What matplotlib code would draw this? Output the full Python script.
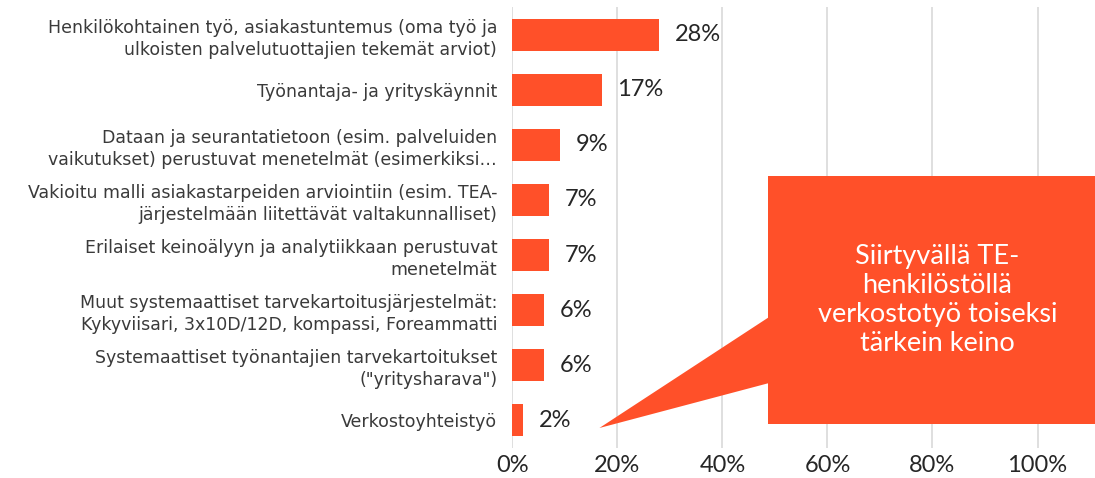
import matplotlib.pyplot as plt
from matplotlib.patches import Polygon, Rectangle
from matplotlib.ticker import FuncFormatter

plt.rcParams['font.family'] = ['Lato', 'DejaVu Sans']

labels = [
    "Henkilökohtainen työ, asiakastuntemus (oma työ ja\nulkoisten palvelutuottajien tekemät arviot)",
    "Työnantaja- ja yrityskäynnit",
    "Dataan ja seurantatietoon (esim. palveluiden\nvaikutukset) perustuvat menetelmät (esimerkiksi…",
    "Vakioitu malli asiakastarpeiden arviointiin (esim. TEA-\njärjestelmään liitettävät valtakunnalliset)",
    "Erilaiset keinoälyyn ja analytiikkaan perustuvat\nmenetelmät",
    "Muut systemaattiset tarvekartoitusjärjestelmät:\nKykyviisari, 3x10D/12D, kompassi, Foreammatti",
    "Systemaattiset työnantajien tarvekartoitukset\n(\"yritysharava\")",
    "Verkostoyhteistyö",
]
values = [28, 17, 9, 7, 7, 6, 6, 2]
xticks = [0, 20, 40, 60, 80, 100]
note = "Siirtyvällä TE-\nhenkilöstöllä\nverkostotyö toiseksi\ntärkein keino"

ORANGE = "#FF5029"

fig = plt.figure(figsize=(10.95, 4.78), dpi=100)
ax = fig.add_axes([0.468, 0.0628, 0.532, 0.9226])

y = list(range(len(values)))
ax.barh(y, values, height=0.58, color=ORANGE, zorder=3)

for yi, v in zip(y, values):
    ax.text(v + 3.0, yi, f"{v}%", va="center", ha="left", fontsize=17,
            color="#262626", zorder=4)

ax.set_yticks(y)
ax.set_yticklabels(labels, fontsize=12.5, color="#3A3A3A", linespacing=1.3,
                   family=["DejaVu Sans"])
ax.set_ylim(len(values) - 0.5, -0.5)
ax.set_xlim(0, 110.95)
ax.set_xticks(xticks)
ax.xaxis.set_major_formatter(FuncFormatter(lambda v, p: f"{v:.0f}%"))
ax.tick_params(axis="x", labelsize=17, labelcolor="#262626", length=0, pad=5)
ax.tick_params(axis="y", length=0, pad=11)
ax.grid(axis="x", color="#D9D9D9", lw=1.2, zorder=0)
ax.set_axisbelow(True)
for s in ax.spines.values():
    s.set_visible(False)

# callout box with a pointer towards the last bar
box = Rectangle((0.7014, 0.113), 0.31, 0.5188, transform=fig.transFigure,
                facecolor=ORANGE, edgecolor="none", zorder=5)
pointer = Polygon([(0.7024, 0.3368), (0.5474, 0.1046), (0.7024, 0.1987)],
                  closed=True, transform=fig.transFigure,
                  facecolor=ORANGE, edgecolor="none", zorder=5)
fig.patches.extend([box, pointer])
fig.text(0.856, 0.372, note, ha="center", va="center", fontsize=19.5,
         color="white", linespacing=1.2, zorder=6)

fig.savefig("out.png", dpi=100)
